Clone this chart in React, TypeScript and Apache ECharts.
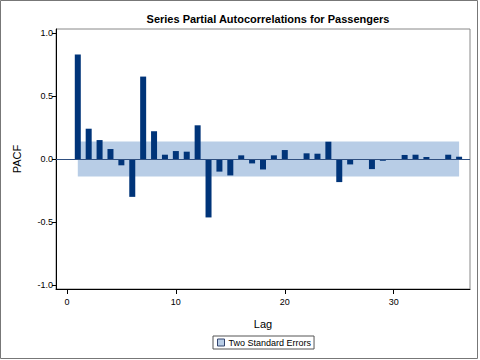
import React, { useEffect, useRef } from "react";
import * as echarts from "echarts";

const lags = [1,2,3,4,5,6,7,8,9,10,11,12,13,14,15,16,17,18,19,20,21,22,23,24,25,26,27,28,29,30,31,32,33,34,35,36];
const pacf = [0.828,0.24,0.15,0.079,-0.05,-0.30,0.653,0.22,0.034,0.063,0.058,0.267,-0.463,-0.10,-0.13,0.029,-0.035,-0.083,0.029,0.071,0.0,0.045,0.042,0.137,-0.183,-0.043,-0.005,-0.08,-0.014,0.0,0.032,0.034,0.016,0.0,0.034,0.018];
const stdErrBand = 0.139;
const xTicks = [0, 10, 20, 30];
const yTicks = [-1.0, -0.5, 0.0, 0.5, 1.0];

export default function App() {
  const ref = useRef<HTMLDivElement>(null);
  useEffect(() => {
    document.body.style.margin = "0";
    const chart = echarts.init(ref.current!, null, { renderer: "svg" });
    const font = "Liberation Sans, Arial, Helvetica, sans-serif";
    chart.setOption({
      animation: false,
      title: {
        text: "Series Partial Autocorrelations for Passengers",
        left: 263,
        top: 8,
        textAlign: "center",
        textStyle: { fontSize: 11, fontWeight: "bold", fontFamily: font, color: "#000" },
      },
      grid: {
        left: 56, top: 29, right: 10, bottom: 71,
        show: true, borderColor: "#888", borderWidth: 1, backgroundColor: "transparent",
      },
      legend: {
        data: [{ name: "Two Standard Errors", icon: "rect", itemStyle: { color: "#b8cde6", borderColor: "#33446e", borderWidth: 1 } }],
        left: 213,
        top: 336,
        itemWidth: 7,
        itemHeight: 7,
        itemGap: 4,
        padding: [2, 3, 2, 4],
        borderColor: "#555",
        borderWidth: 1,
        textStyle: { fontSize: 9, fontFamily: font, color: "#000", padding: [0, 0, 0, -1] },
        selectedMode: false,
      },
      xAxis: {
        type: "value",
        min: -1,
        max: 37,
        name: "Lag",
        nameLocation: "middle",
        nameGap: 29,
        nameTextStyle: { fontSize: 11, fontFamily: font, color: "#000" },
        axisLine: { show: true, onZero: false, lineStyle: { color: "#000", width: 1 } },
        axisTick: { show: true, length: 5, customValues: xTicks, lineStyle: { color: "#000" } },
        axisLabel: { customValues: xTicks, fontSize: 9, fontFamily: font, color: "#000", margin: 8 },
        splitLine: { show: false },
      },
      yAxis: {
        type: "value",
        min: -1.03,
        max: 1.03,
        name: "PACF",
        nameLocation: "middle",
        nameGap: 34,
        nameTextStyle: { fontSize: 11, fontFamily: font, color: "#000" },
        axisLine: { show: true, onZero: false, lineStyle: { color: "#000", width: 1 } },
        axisTick: { show: true, length: 4, customValues: yTicks, lineStyle: { color: "#000" } },
        axisLabel: {
          customValues: yTicks, fontSize: 9, fontFamily: font, color: "#000", margin: 3,
          formatter: (v: number) => v.toFixed(1),
        },
        splitLine: { show: false },
      },
      series: [
        {
          name: "Two Standard Errors",
          type: "line",
          data: [],
          itemStyle: { color: "#b8cde6" },
          markArea: {
            silent: true,
            itemStyle: { color: "#b8cde6", opacity: 1 },
            data: [[{ coord: [lags[0], -stdErrBand] }, { coord: [lags[lags.length - 1], stdErrBand] }]],
          },
          z: 1,
        },
        {
          name: "PACF",
          type: "bar",
          barWidth: 6,
          data: lags.map((l, i) => [l, pacf[i]]),
          itemStyle: { color: "#003479" },
          markLine: {
            silent: true,
            symbol: "none",
            label: { show: false },
            lineStyle: { color: "#2f4f80", width: 1, type: "solid" },
            data: [{ yAxis: 0 }],
          },
          z: 3,
        },
      ],
      graphic: [
        {
          type: "rect",
          shape: { x: 0.5, y: 0.5, width: 477, height: 358 },
          style: { fill: "none", stroke: "#777", lineWidth: 1 },
          silent: true,
        },
      ],
    });
    return () => chart.dispose();
  }, []);
  return <div ref={ref} style={{ width: 480, height: 360 }} />;
}
